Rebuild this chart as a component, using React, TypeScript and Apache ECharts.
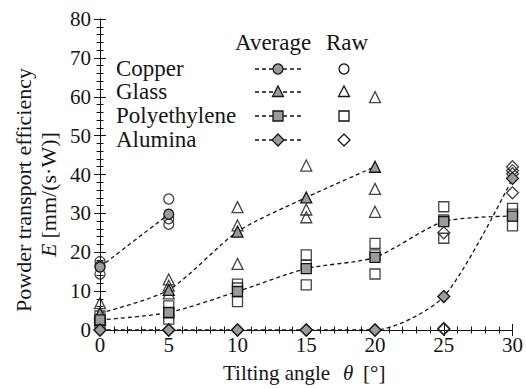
import React, { useEffect, useRef } from "react";
import * as echarts from "echarts";

// Tilting angles (deg)
const angles = [0, 5, 10, 15, 20, 25, 30];

// Average values (per material, at the angles listed)
const copperAngles = [0, 5];
const copperAvg = [16.2, 29.8];
const glassAngles = [0, 5, 10, 15, 20];
const glassAvg = [4.3, 10.3, 25.3, 34.1, 42.0];
const polyAvg = [2.6, 4.5, 9.9, 15.8, 18.7, 27.9, 29.3];
const aluminaAvg = [0, 0, 0, 0, 0, 8.6, 39.0];

// Raw measurements: [angle, value]
const copperRaw = [
  [0, 17.6], [0, 16.5], [0, 14.4],
  [5, 33.7], [5, 28.6], [5, 27.2],
];
const glassRaw = [
  [0, 6.9], [0, 3.4], [0, 2.6],
  [5, 13.0], [5, 11.4], [5, 9.4],
  [10, 31.6], [10, 26.9], [10, 17.0],
  [15, 42.3], [15, 31.0], [15, 29.0],
  [20, 59.9], [20, 36.3], [20, 30.4],
];
const polyRaw = [
  [0, 3.6], [0, 2.4], [0, 1.8],
  [5, 6.2], [5, 4.4], [5, 2.8],
  [10, 11.8], [10, 10.8], [10, 7.3],
  [15, 19.3], [15, 16.6], [15, 11.6],
  [20, 22.3], [20, 19.3], [20, 14.4],
  [25, 31.7], [25, 28.3], [25, 23.6],
  [30, 31.3], [30, 29.8], [30, 26.8],
];
const aluminaRaw = [
  [0, 0], [5, 0], [10, 0], [15, 0], [20, 0],
  [25, 25.0], [25, 0.4], [25, 0.2],
  [30, 42.0], [30, 41.0], [30, 40.2], [30, 35.3],
];

const yTicks = [0, 10, 20, 30, 40, 50, 60, 70, 80];

const FONT = "'Liberation Serif', 'Times New Roman', serif";
const INK = "#151515";
const FILL = "#9b9b9b";

const materials = [
  { name: "Copper", symbol: "circle", size: 10, xs: copperAngles, avg: copperAvg, raw: copperRaw },
  { name: "Glass", symbol: "triangle", size: 11, xs: glassAngles, avg: glassAvg, raw: glassRaw },
  { name: "Polyethylene", symbol: "rect", size: 10, xs: angles, avg: polyAvg, raw: polyRaw },
  { name: "Alumina", symbol: "diamond", size: 12, xs: angles, avg: aluminaAvg, raw: aluminaRaw },
];

function legendShape(symbol: string, cx: number, cy: number, filled: boolean) {
  const style = { fill: filled ? FILL : "none", stroke: INK, lineWidth: 1.3 };
  if (symbol === "circle") return { type: "circle", shape: { cx, cy, r: 5 }, style };
  if (symbol === "rect") return { type: "rect", shape: { x: cx - 5, y: cy - 5, width: 10, height: 10 }, style };
  if (symbol === "triangle")
    return { type: "polygon", shape: { points: [[cx, cy - 6], [cx + 5.5, cy + 4.5], [cx - 5.5, cy + 4.5]] }, style };
  return { type: "polygon", shape: { points: [[cx, cy - 6], [cx + 6, cy], [cx, cy + 6], [cx - 6, cy]] }, style };
}

const txt = (text: string, x: number, y: number, size: number, align = "left", italic = false) => ({
  type: "text",
  x,
  y,
  style: {
    text,
    fontFamily: FONT,
    fontSize: size,
    fontStyle: italic ? "italic" : "normal",
    fill: INK,
    align,
    verticalAlign: "middle",
  },
});

export default function App() {
  const ref = useRef<HTMLDivElement>(null);
  useEffect(() => {
    if (!ref.current) return;
    const chart = echarts.init(ref.current, undefined, { renderer: "svg" });

    const series: any[] = [];
    materials.forEach((m) => {
      series.push({
        type: "scatter",
        name: m.name + " raw",
        data: m.raw,
        symbol: m.symbol,
        symbolSize: m.size,
        clip: false,
        itemStyle: { color: "rgba(255,255,255,0)", borderColor: INK, borderWidth: 1.3 },
        z: 3,
      });
      series.push({
        type: "line",
        name: m.name,
        data: m.xs.map((x, i) => [x, m.avg[i]]),
        symbol: m.symbol,
        symbolSize: m.size,
        showSymbol: true,
        smooth: 0.25,
        clip: false,
        lineStyle: { color: INK, width: 1.3, type: [4, 3] },
        itemStyle: { color: FILL, borderColor: INK, borderWidth: 1.3 },
        z: 4,
      });
    });

    const rowsY = [68, 91, 115, 139];
    const graphics: any[] = [
      txt("Average", 235, 42, 23),
      txt("Raw", 326, 42, 23),
      // x-axis title
      txt("Tilting angle", 223, 373, 21),
      txt("θ", 343, 373, 21, "left", true),
      txt("[°]", 363, 373, 21),
      // y-axis title (rotated)
      {
        type: "group",
        x: 23,
        y: 190,
        rotation: Math.PI / 2,
        children: [txt("Powder transport efficiency", 0, 0, 22, "center")],
      },
      {
        type: "group",
        x: 48,
        y: 194,
        rotation: Math.PI / 2,
        children: [txt("E", -63, 0, 22, "left", true), txt(" [mm/(s·W)]", -50, 0, 22, "left")],
      },
    ];
    materials.forEach((m, i) => {
      const y = rowsY[i];
      graphics.push(txt(m.name, 116, y, 23));
      graphics.push({
        type: "line",
        shape: { x1: 255, y1: y + 1, x2: 303, y2: y + 1 },
        style: { stroke: INK, lineWidth: 1.3, lineDash: [4, 3] },
      });
      graphics.push(legendShape(m.symbol, 278, y + 1, true));
      graphics.push(legendShape(m.symbol, 344, y + 1, false));
    });

    const axisLine = { show: true, lineStyle: { color: INK, width: 1 } };
    const tick = { show: true, inside: true, length: 6, lineStyle: { color: INK, width: 1 } };
    const minor = { show: true, splitNumber: 5, length: 3.5, lineStyle: { color: INK, width: 1 } };
    const label = (margin: number) => ({ fontFamily: FONT, fontSize: 21, color: INK, margin });

    chart.setOption({
      animation: false,
      backgroundColor: "#fff",
      textStyle: { fontFamily: FONT, color: INK },
      grid: { left: 100, right: 12, top: 19, bottom: 58, containLabel: false },
      xAxis: [
        {
          type: "value",
          min: 0,
          max: 30,
          interval: 5,
          position: "bottom",
          axisLine,
          axisTick: tick,
          minorTick: minor,
          splitLine: { show: false },
          axisLabel: label(4),
        },
        {
          type: "value",
          min: 0,
          max: 30,
          interval: 5,
          position: "top",
          axisLine,
          axisTick: tick,
          minorTick: minor,
          splitLine: { show: false },
          axisLabel: { show: false },
        },
      ],
      yAxis: [
        {
          type: "value",
          min: yTicks[0],
          max: yTicks[yTicks.length - 1],
          interval: 10,
          position: "left",
          axisLine,
          axisTick: tick,
          minorTick: minor,
          splitLine: { show: false },
          axisLabel: label(9),
        },
        {
          type: "value",
          min: yTicks[0],
          max: yTicks[yTicks.length - 1],
          interval: 10,
          position: "right",
          axisLine,
          axisTick: tick,
          minorTick: minor,
          splitLine: { show: false },
          axisLabel: { show: false },
        },
      ],
      series,
      graphic: graphics,
    });
    return () => chart.dispose();
  }, []);
  return <div ref={ref} style={{ width: 526, height: 388, position: "absolute", left: 0, top: 0 }} />;
}
